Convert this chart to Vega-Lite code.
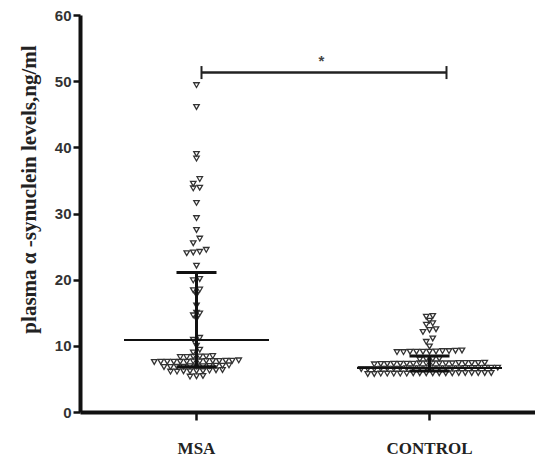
{
  "$schema": "https://vega.github.io/schema/vega-lite/v6.json",
  "width": 455,
  "height": 397,
  "autosize": {"type": "none"},
  "padding": {"left": 80, "top": 15, "right": 0, "bottom": 45},
  "background": "white",
  "config": {"view": {"stroke": null}},
  "datasets": {
    "points": [
      {"group": "MSA", "value": 49.4}, {"group": "MSA", "value": 46.1}, {"group": "MSA", "value": 39.0}, {"group": "MSA", "value": 38.3},
      {"group": "MSA", "value": 35.2}, {"group": "MSA", "value": 34.5}, {"group": "MSA", "value": 33.8}, {"group": "MSA", "value": 33.9},
      {"group": "MSA", "value": 31.6}, {"group": "MSA", "value": 29.3}, {"group": "MSA", "value": 27.5}, {"group": "MSA", "value": 26.2},
      {"group": "MSA", "value": 25.5}, {"group": "MSA", "value": 24.5}, {"group": "MSA", "value": 24.1}, {"group": "MSA", "value": 24.0},
      {"group": "MSA", "value": 24.2}, {"group": "MSA", "value": 22.1}, {"group": "MSA", "value": 20.1}, {"group": "MSA", "value": 19.9},
      {"group": "MSA", "value": 18.5}, {"group": "MSA", "value": 18.4}, {"group": "MSA", "value": 17.7}, {"group": "MSA", "value": 16.1},
      {"group": "MSA", "value": 15.0}, {"group": "MSA", "value": 14.9}, {"group": "MSA", "value": 14.6}, {"group": "MSA", "value": 14.1},
      {"group": "MSA", "value": 11.2}, {"group": "MSA", "value": 10.9}, {"group": "MSA", "value": 10.0}, {"group": "MSA", "value": 9.4},
      {"group": "MSA", "value": 9.0}, {"group": "MSA", "value": 8.4}, {"group": "MSA", "value": 8.45}, {"group": "MSA", "value": 8.4},
      {"group": "MSA", "value": 8.3}, {"group": "MSA", "value": 8.3}, {"group": "MSA", "value": 8.35},
      {"group": "MSA", "value": 7.6}, {"group": "MSA", "value": 7.7}, {"group": "MSA", "value": 7.65}, {"group": "MSA", "value": 7.6},
      {"group": "MSA", "value": 7.75}, {"group": "MSA", "value": 7.6}, {"group": "MSA", "value": 7.7}, {"group": "MSA", "value": 7.55},
      {"group": "MSA", "value": 7.8}, {"group": "MSA", "value": 7.6}, {"group": "MSA", "value": 7.65}, {"group": "MSA", "value": 7.7},
      {"group": "MSA", "value": 7.6}, {"group": "MSA", "value": 7.75},
      {"group": "MSA", "value": 6.9}, {"group": "MSA", "value": 6.8}, {"group": "MSA", "value": 7.0}, {"group": "MSA", "value": 6.85},
      {"group": "MSA", "value": 6.9}, {"group": "MSA", "value": 7.05}, {"group": "MSA", "value": 6.8}, {"group": "MSA", "value": 6.95},
      {"group": "MSA", "value": 6.85}, {"group": "MSA", "value": 7.0}, {"group": "MSA", "value": 6.9},
      {"group": "MSA", "value": 6.2}, {"group": "MSA", "value": 6.1}, {"group": "MSA", "value": 6.3}, {"group": "MSA", "value": 6.15},
      {"group": "MSA", "value": 6.25}, {"group": "MSA", "value": 6.1}, {"group": "MSA", "value": 6.2}, {"group": "MSA", "value": 6.35},
      {"group": "MSA", "value": 6.15},
      {"group": "MSA", "value": 5.4}, {"group": "MSA", "value": 5.35}, {"group": "MSA", "value": 5.45},

      {"group": "CONTROL", "value": 14.4}, {"group": "CONTROL", "value": 14.5}, {"group": "CONTROL", "value": 13.8},
      {"group": "CONTROL", "value": 13.2}, {"group": "CONTROL", "value": 13.4},
      {"group": "CONTROL", "value": 12.5}, {"group": "CONTROL", "value": 12.4}, {"group": "CONTROL", "value": 12.1},
      {"group": "CONTROL", "value": 11.1}, {"group": "CONTROL", "value": 10.6}, {"group": "CONTROL", "value": 9.9},
      {"group": "CONTROL", "value": 9.1}, {"group": "CONTROL", "value": 9.05}, {"group": "CONTROL", "value": 9.2}, {"group": "CONTROL", "value": 9.1},
      {"group": "CONTROL", "value": 9.15}, {"group": "CONTROL", "value": 9.3}, {"group": "CONTROL", "value": 9.1}, {"group": "CONTROL", "value": 9.05},
      {"group": "CONTROL", "value": 9.2}, {"group": "CONTROL", "value": 9.1}, {"group": "CONTROL", "value": 9.25},
      {"group": "CONTROL", "value": 8.0}, {"group": "CONTROL", "value": 7.95}, {"group": "CONTROL", "value": 8.05}, {"group": "CONTROL", "value": 8.0},
      {"group": "CONTROL", "value": 7.35}, {"group": "CONTROL", "value": 7.3}, {"group": "CONTROL", "value": 7.4}, {"group": "CONTROL", "value": 7.35},
      {"group": "CONTROL", "value": 7.25}, {"group": "CONTROL", "value": 7.4}, {"group": "CONTROL", "value": 7.3}, {"group": "CONTROL", "value": 7.35},
      {"group": "CONTROL", "value": 7.45}, {"group": "CONTROL", "value": 7.3}, {"group": "CONTROL", "value": 7.35}, {"group": "CONTROL", "value": 7.2},
      {"group": "CONTROL", "value": 7.4}, {"group": "CONTROL", "value": 7.35}, {"group": "CONTROL", "value": 7.3}, {"group": "CONTROL", "value": 7.4},
      {"group": "CONTROL", "value": 7.25}, {"group": "CONTROL", "value": 7.35},
      {"group": "CONTROL", "value": 6.6}, {"group": "CONTROL", "value": 6.55}, {"group": "CONTROL", "value": 6.65}, {"group": "CONTROL", "value": 6.6},
      {"group": "CONTROL", "value": 6.5}, {"group": "CONTROL", "value": 6.7}, {"group": "CONTROL", "value": 6.6}, {"group": "CONTROL", "value": 6.55},
      {"group": "CONTROL", "value": 6.65}, {"group": "CONTROL", "value": 6.6}, {"group": "CONTROL", "value": 6.5}, {"group": "CONTROL", "value": 6.6},
      {"group": "CONTROL", "value": 6.7}, {"group": "CONTROL", "value": 6.55}, {"group": "CONTROL", "value": 6.6}, {"group": "CONTROL", "value": 6.65},
      {"group": "CONTROL", "value": 6.6}, {"group": "CONTROL", "value": 6.5}, {"group": "CONTROL", "value": 6.6}, {"group": "CONTROL", "value": 6.7},
      {"group": "CONTROL", "value": 6.55}, {"group": "CONTROL", "value": 6.6},
      {"group": "CONTROL", "value": 5.85}, {"group": "CONTROL", "value": 5.9}, {"group": "CONTROL", "value": 5.8}, {"group": "CONTROL", "value": 5.85},
      {"group": "CONTROL", "value": 5.9}, {"group": "CONTROL", "value": 5.75}, {"group": "CONTROL", "value": 5.85}, {"group": "CONTROL", "value": 5.9},
      {"group": "CONTROL", "value": 5.8}, {"group": "CONTROL", "value": 5.85}, {"group": "CONTROL", "value": 5.9}, {"group": "CONTROL", "value": 5.8},
      {"group": "CONTROL", "value": 5.85}, {"group": "CONTROL", "value": 5.75}, {"group": "CONTROL", "value": 5.9}, {"group": "CONTROL", "value": 5.85},
      {"group": "CONTROL", "value": 5.8}, {"group": "CONTROL", "value": 5.9}, {"group": "CONTROL", "value": 5.85}, {"group": "CONTROL", "value": 5.8}
    ],
    "summary": [
      {"group": "MSA", "median": 10.9, "q1": 6.85, "q3": 21.1},
      {"group": "CONTROL", "median": 6.65, "q1": 6.2, "q3": 8.45}
    ],
    "sig": [
      {"from": "MSA", "to": "CONTROL", "y": 51.3, "ystar": 53.0, "label": "*"}
    ]
  },
  "layer": [
    {
      "data": {"name": "points"},
      "transform": [
        {"calculate": "floor(datum.value / 0.75)", "as": "row"},
        {"joinaggregate": [{"op": "count", "as": "cnt"}], "groupby": ["group", "row"]},
        {"window": [{"op": "row_number", "as": "rn"}], "groupby": ["group", "row"], "sort": [{"field": "value", "order": "ascending"}]},
        {"calculate": "(datum.rn - (datum.cnt + 1) / 2) * 6.5", "as": "off"}
      ],
      "mark": {"type": "point", "shape": "triangle-down", "filled": false, "stroke": "#333333", "strokeWidth": 1.3, "size": 30, "opacity": 1},
      "encoding": {
        "x": {"field": "group", "type": "nominal", "sort": ["MSA", "CONTROL"],
          "scale": {"domain": ["MSA", "CONTROL"], "range": [0, 466], "paddingInner": 0, "paddingOuter": 0},
          "axis": {"title": null, "labelAngle": 0, "domainWidth": 4, "domainColor": "#111", "tickColor": "#111", "tickWidth": 2.5, "tickSize": 8,
            "labelPadding": 20, "labelFont": "Liberation Serif", "labelFontSize": 17, "labelFontWeight": "bold", "labelColor": "#222", "grid": false}},
        "xOffset": {"field": "off", "type": "quantitative", "scale": {"domain": [-116.5, 116.5]}},
        "y": {"field": "value", "type": "quantitative",
          "scale": {"domain": [0, 60], "nice": false, "zero": true},
          "axis": {"title": "plasma α -synuclein levels,ng/ml", "values": [0, 10, 20, 30, 40, 50, 60], "grid": false,
            "domainWidth": 4, "domainColor": "#111", "tickColor": "#111", "tickWidth": 2.5, "tickSize": 7, "labelPadding": 2,
            "labelFont": "Liberation Sans", "labelFontWeight": "bold", "labelFontSize": 15, "labelColor": "#333",
            "titleFont": "Liberation Serif", "titleFontSize": 21, "titleFontWeight": "bold", "titleColor": "#222",
            "titleX": -51, "titleY": 174, "titleAngle": 270, "titleBaseline": "middle", "titleAlign": "center"}}
      }
    },
    {
      "data": {"name": "summary"},
      "mark": {"type": "tick", "orient": "horizontal", "size": 145, "thickness": 2, "color": "#111", "opacity": 1},
      "encoding": {
        "x": {"field": "group", "type": "nominal"},
        "y": {"field": "median", "type": "quantitative"}
      }
    },
    {
      "data": {"name": "summary"},
      "mark": {"type": "rule", "strokeWidth": 3, "color": "#111"},
      "encoding": {
        "x": {"field": "group", "type": "nominal"},
        "y": {"field": "q1", "type": "quantitative"},
        "y2": {"field": "q3"}
      }
    },
    {
      "data": {"name": "summary"},
      "transform": [{"fold": ["q1", "q3"], "as": ["stat", "v"]}],
      "mark": {"type": "tick", "orient": "horizontal", "size": 40, "thickness": 3, "color": "#111", "opacity": 1},
      "encoding": {
        "x": {"field": "group", "type": "nominal"},
        "y": {"field": "v", "type": "quantitative"}
      }
    },
    {
      "data": {"name": "sig"},
      "mark": {"type": "rule", "strokeWidth": 2.5, "color": "#222", "xOffset": 5, "x2Offset": 17},
      "encoding": {
        "x": {"field": "from", "type": "nominal"},
        "x2": {"field": "to"},
        "y": {"field": "y", "type": "quantitative"}
      }
    },
    {
      "data": {"name": "sig"},
      "mark": {"type": "tick", "orient": "vertical", "size": 13, "thickness": 2, "color": "#222", "opacity": 1, "xOffset": 5},
      "encoding": {
        "x": {"field": "from", "type": "nominal"},
        "y": {"field": "y", "type": "quantitative"}
      }
    },
    {
      "data": {"name": "sig"},
      "mark": {"type": "tick", "orient": "vertical", "size": 13, "thickness": 2, "color": "#222", "opacity": 1, "xOffset": 17},
      "encoding": {
        "x": {"field": "to", "type": "nominal"},
        "y": {"field": "y", "type": "quantitative"}
      }
    },
    {
      "data": {"name": "sig"},
      "mark": {"type": "text", "dx": 125, "fontSize": 15, "fontWeight": "bold", "font": "Liberation Sans", "color": "#444", "baseline": "middle"},
      "encoding": {
        "x": {"field": "from", "type": "nominal"},
        "y": {"field": "ystar", "type": "quantitative"},
        "text": {"field": "label"}
      }
    }
  ]
}
